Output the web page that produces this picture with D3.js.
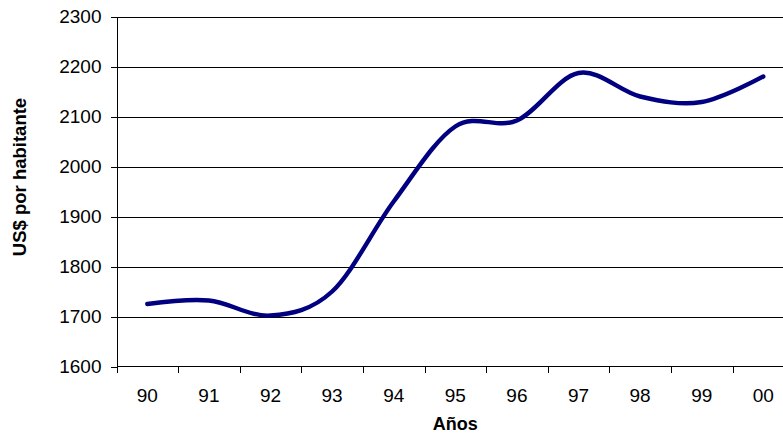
<!DOCTYPE html>
<html>
<head>
<meta charset="utf-8">
<script src="https://cdn.jsdelivr.net/npm/d3@7"></script>
<style>
  html, body { margin: 0; padding: 0; background: #fff; }
  svg { display: block; }
  text { font-family: "Liberation Sans", Arial, sans-serif; fill: #000; }
</style>
</head>
<body>
<svg id="chart" width="783" height="435"></svg>
<script>
// GDP per capita, US$ per inhabitant, 1990-2000
const years = ["90", "91", "92", "93", "94", "95", "96", "97", "98", "99", "00"];
const values = [1725, 1732, 1702, 1750, 1930, 2080, 2092, 2187, 2140, 2129, 2180];
const yTicks = [1600, 1700, 1800, 1900, 2000, 2100, 2200, 2300];

const W = 783, H = 435;
const plotLeft = 116.5, plotTop = 16.5, plotBottom = 366.5;
const band = 61.6;
const plotRight = plotLeft + band * years.length;

const svg = d3.select("#chart");

const x = d3.scaleBand().domain(years).range([plotLeft, plotRight]).padding(0);
const y = d3.scaleLinear().domain([1600, 2300]).range([plotBottom, plotTop]);

// horizontal gridlines
svg.append("g")
  .selectAll("line")
  .data(yTicks.slice(1))
  .join("line")
  .attr("x1", plotLeft).attr("x2", W)
  .attr("y1", d => Math.round(y(d)) + 0.5)
  .attr("y2", d => Math.round(y(d)) + 0.5)
  .attr("stroke", "#000")
  .attr("stroke-width", 1)
  .attr("shape-rendering", "crispEdges");

// value axis
const yAxis = d3.axisLeft(y).tickValues(yTicks).tickFormat(d3.format("d")).tickSize(6).tickPadding(9);
const gy = svg.append("g").attr("transform", `translate(${plotLeft},0)`).call(yAxis);
gy.select(".domain").attr("stroke", "#000").attr("shape-rendering", "crispEdges");
gy.selectAll(".tick line").attr("stroke", "#000").attr("shape-rendering", "crispEdges");
gy.selectAll(".tick text")
  .style("font-size", "19px")
  .style("font-family", "'Liberation Sans', Arial, sans-serif")
  .attr("fill", "#000");

// category axis, ticks between categories
const gx = svg.append("g").attr("transform", `translate(0,${plotBottom})`);
gx.append("line")
  .attr("x1", plotLeft).attr("x2", W)
  .attr("y1", 0).attr("y2", 0)
  .attr("stroke", "#000").attr("shape-rendering", "crispEdges");
gx.selectAll("line.tk")
  .data(years)
  .join("line")
  .attr("class", "tk")
  .attr("x1", d => Math.round(x(d)) + 0.5)
  .attr("x2", d => Math.round(x(d)) + 0.5)
  .attr("y1", 0).attr("y2", 6)
  .attr("stroke", "#000").attr("shape-rendering", "crispEdges");
gx.selectAll("text")
  .data(years)
  .join("text")
  .attr("x", d => x(d) + x.bandwidth() / 2)
  .attr("y", 35)
  .attr("text-anchor", "middle")
  .style("font-size", "19px")
  .text(d => d);

// smoothed series line
const line = d3.line()
  .x((d, i) => x(years[i]) + x.bandwidth() / 2)
  .y(d => y(d))
  .curve(d3.curveCatmullRom.alpha(0));

svg.append("path")
  .datum(values)
  .attr("d", line)
  .attr("fill", "none")
  .attr("stroke", "#000080")
  .attr("stroke-width", 4.4)
  .attr("stroke-linecap", "round")
  .attr("stroke-linejoin", "round");

// axis titles
svg.append("text")
  .attr("x", (plotLeft + plotRight) / 2)
  .attr("y", 430)
  .attr("text-anchor", "middle")
  .style("font-size", "18px")
  .style("font-weight", "bold")
  .text("Años");

svg.append("text")
  .attr("transform", "translate(26,177) rotate(-90)")
  .attr("text-anchor", "middle")
  .style("font-size", "18.5px")
  .style("font-weight", "bold")
  .text("US$ por habitante");
</script>
</body>
</html>
